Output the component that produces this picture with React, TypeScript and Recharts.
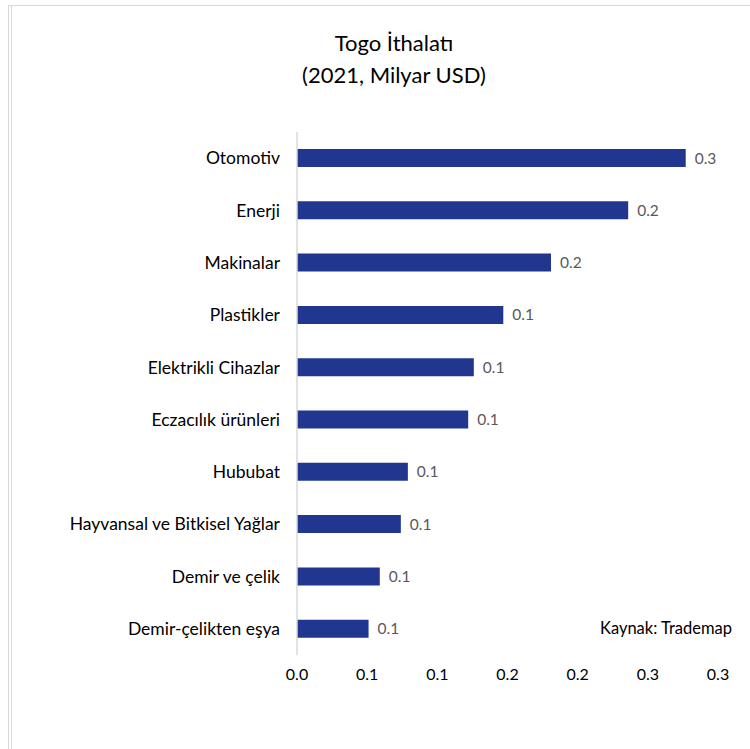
import { BarChart, Bar, XAxis, YAxis, LabelList } from 'recharts';

const categories = [
  'Otomotiv',
  'Enerji',
  'Makinalar',
  'Plastikler',
  'Elektrikli Cihazlar',
  'Eczacılık ürünleri',
  'Hububat',
  'Hayvansal ve Bitkisel Yağlar',
  'Demir ve çelik',
  'Demir-çelikten eşya',
];
const values = [0.277, 0.236, 0.181, 0.147, 0.126, 0.122, 0.079, 0.074, 0.059, 0.051];
const xTicks = [0, 0.05, 0.1, 0.15, 0.2, 0.25, 0.3];

const data = categories.map((name, i) => ({ name, value: values[i] }));

const FONT = 'Lato, "Open Sans", sans-serif';
const fmt = (v: number) => (Math.round(v * 10 + 1e-9) / 10).toFixed(1);

export default function App() {
  return (
    <div style={{ position: 'absolute', left: 0, top: 0, width: 750, height: 749, background: '#fff', fontFamily: FONT }}>
      {/* frame lines */}
      <div style={{ position: 'absolute', left: 8, top: 5, width: 742, height: 1, background: '#d9d9d9' }} />
      <div style={{ position: 'absolute', left: 8, top: 5, width: 1, height: 744, background: '#d9d9d9' }} />
      <div style={{ position: 'absolute', left: 11, top: 5, width: 1, height: 744, background: '#d9d9d9' }} />

      <div style={{ position: 'absolute', left: 0, top: 27, width: 788, textAlign: 'center', fontSize: 22, lineHeight: '32px', color: '#000' }}>
        Togo İthalatı
        <br />
        (2021, Milyar USD)
      </div>

      <div style={{ position: 'absolute', left: 600, top: 618, fontSize: 16.5, color: '#000' }}>Kaynak: Trademap</div>

      <BarChart
        width={750}
        height={749}
        data={data}
        layout="vertical"
        margin={{ top: 132, right: 32, bottom: 64, left: 0 }}
        barCategoryGap={17}
      >
        <XAxis
          type="number"
          domain={[0, 0.3]}
          ticks={xTicks}
          tickFormatter={fmt}
          axisLine={false}
          tickLine={false}
          tickMargin={8}
          height={30}
          tick={{ fill: '#000', fontSize: 16, fontFamily: FONT }}
          interval={0}
        />
        <YAxis
          type="category"
          dataKey="name"
          width={297}
          axisLine={{ stroke: '#d9d9d9', strokeWidth: 1.5 }}
          tickLine={false}
          tickMargin={11}
          tick={{ fill: '#000', fontSize: 17.5, fontFamily: FONT }}
          interval={0}
        />
        <Bar dataKey="value" fill="#21378f" barSize={18} isAnimationActive={false}>
          <LabelList
            dataKey="value"
            position="right"
            offset={9}
            formatter={fmt}
            style={{ fill: '#595959', fontSize: 15.5, fontFamily: FONT }}
          />
        </Bar>
      </BarChart>
    </div>
  );
}
